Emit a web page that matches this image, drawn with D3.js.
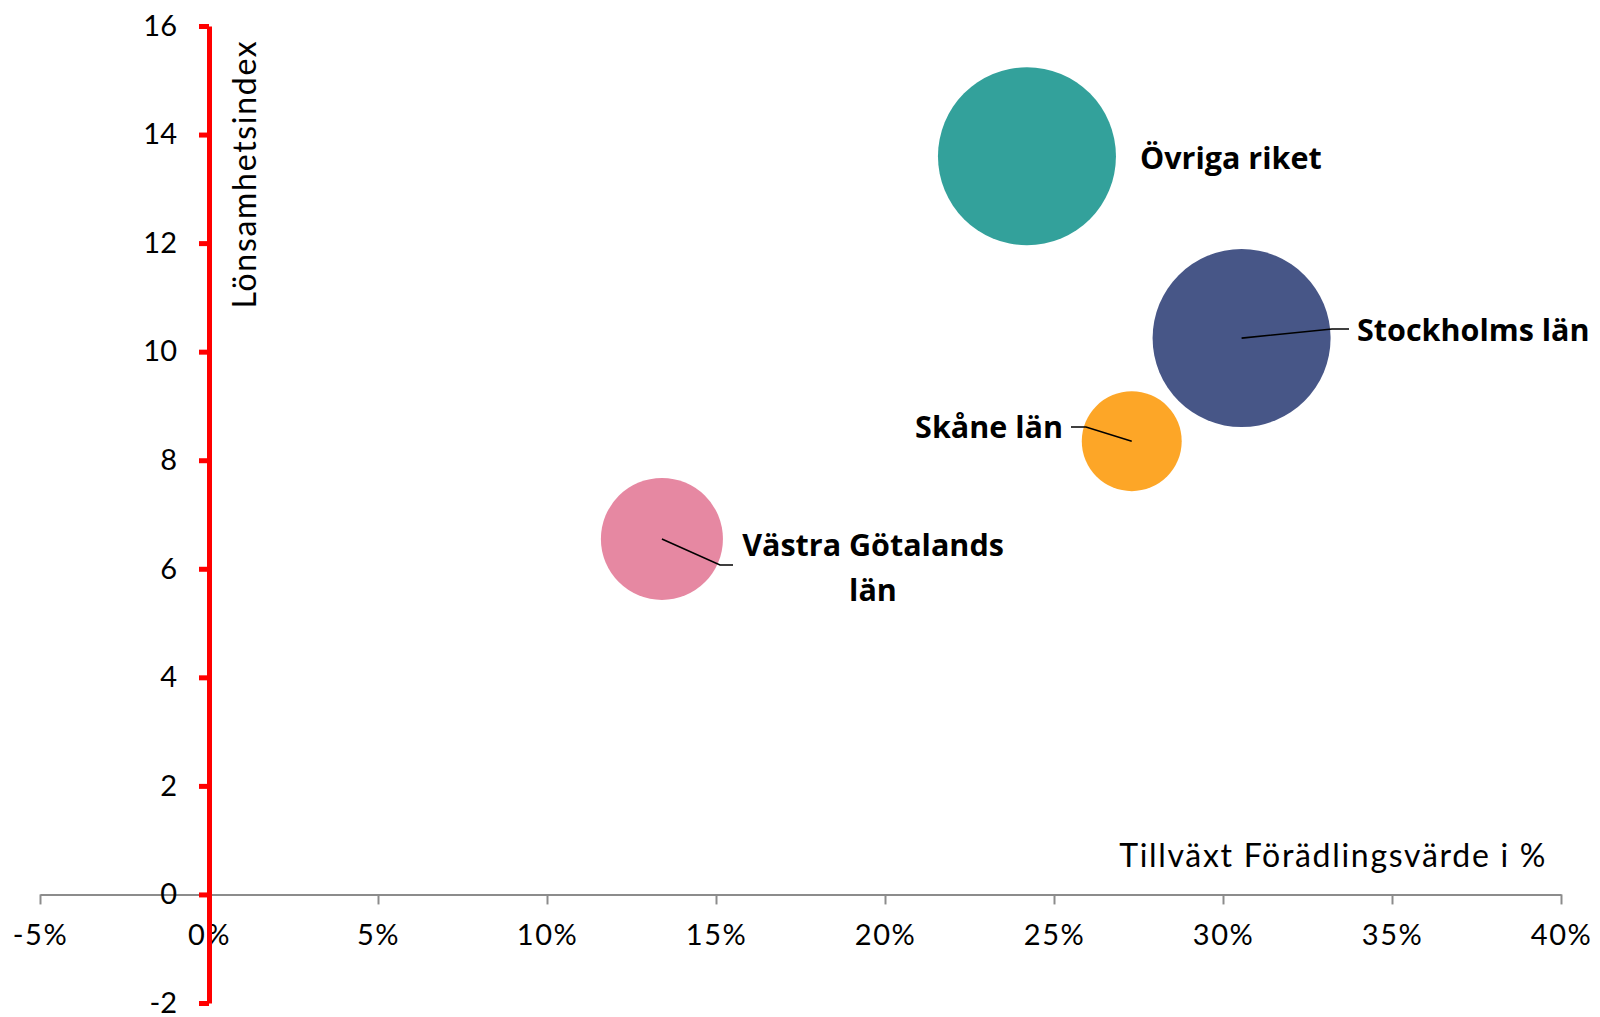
<!DOCTYPE html>
<html>
<head>
<meta charset="utf-8">
<script src="https://cdn.jsdelivr.net/npm/d3@7"></script>
<style>
  body { margin: 0; background: #fff; }
  svg { display: block; }
</style>
</head>
<body>
<script>
// data
var regions = ["Övriga riket", "Stockholms län", "Skåne län", "Västra Götalands län"];
var growth  = [24.2, 30.55, 27.3, 13.4];    // Tillväxt förädlingsvärde, %
var profit  = [13.6, 10.25, 8.35, 6.55];    // Lönsamhetsindex
var bsize   = [100, 100, 31.5, 47];         // bubble size
var colors  = ["#33a19b", "#475687", "#fda627", "#e688a2"];
var xTicks = [-5, 0, 5, 10, 15, 20, 25, 30, 35, 40];
var yTicks = [-2, 0, 2, 4, 6, 8, 10, 12, 14, 16];

var W = 1600, H = 1017;
var svg = d3.select("body").append("svg").attr("width", W).attr("height", H);

var x = d3.scaleLinear().domain([-5, 40]).range([40, 1561]);
var y = d3.scaleLinear().domain([-2, 16]).range([1003, 26]);
var r = d3.scaleSqrt().domain([0, 100]).range([0, 89]);

var tickFont = "Lato, 'Open Sans', sans-serif";
var labFont = "'Open Sans', Lato, sans-serif";

// x axis (grey), at y = 0
var gx = svg.append("g").attr("transform", "translate(0," + y(0) + ")")
  .call(d3.axisBottom(x).tickValues(xTicks).tickSize(10).tickSizeOuter(0).tickPadding(20)
    .tickFormat(function(d){ return String(d) + "%"; }));
gx.select(".domain").attr("stroke", "#8c8c8c").attr("stroke-width", 2);
gx.selectAll(".tick line").attr("stroke", "#8c8c8c").attr("stroke-width", 2);
gx.selectAll(".tick text").attr("fill", "#000").style("font-family", tickFont).style("font-size", "29px")
  .style("letter-spacing", "1.5px");

// bubbles
var pts = regions.map(function(n, i){ return {name: n, gx: growth[i], py: profit[i], s: bsize[i], c: colors[i]}; });
svg.append("g").selectAll("circle").data(pts).enter().append("circle")
  .attr("cx", function(d){ return x(d.gx); })
  .attr("cy", function(d){ return y(d.py); })
  .attr("r", function(d){ return r(d.s); })
  .attr("fill", function(d){ return d.c; });

// y axis (red), at x = 0
var gy = svg.append("g").attr("transform", "translate(" + x(0) + ",0)")
  .call(d3.axisLeft(y).tickValues(yTicks).tickSize(10).tickSizeOuter(0).tickPadding(22)
    .tickFormat(function(d){ return String(d); }));
gy.select(".domain").attr("stroke", "#ff0000").attr("stroke-width", 5);
gy.selectAll(".tick line").attr("stroke", "#ff0000").attr("stroke-width", 5);
gy.selectAll(".tick text").attr("fill", "#000").style("font-family", tickFont).style("font-size", "29px");

// axis titles
svg.append("text").attr("transform", "translate(" + (x(0) + 50) + "," + 174 + ") rotate(-90)")
  .attr("text-anchor", "middle").attr("dy", "-0.1em")
  .style("font-family", tickFont).style("font-size", "32px").style("letter-spacing", "1.7px")
  .text("Lönsamhetsindex");
svg.append("text").attr("x", 1547).attr("y", 867).attr("text-anchor", "end")
  .style("font-family", tickFont).style("font-size", "32px").style("letter-spacing", "1.7px")
  .text("Tillväxt Förädlingsvärde i %");

// labels + leader lines
function P(i){ return [x(growth[i]), y(profit[i])]; }
var lab = svg.append("g").style("font-family", labFont).style("font-weight", 700).style("font-size", "30.5px").attr("fill", "#000");
var lines = svg.append("g").attr("fill", "none").attr("stroke", "#000").attr("stroke-width", 1.6);

lab.append("text").attr("x", 1140).attr("y", 169).text(regions[0]);

var p1 = P(1);
lines.append("path").attr("d", d3.line()([p1, [1332, 329], [1349, 329]]));
lab.append("text").attr("x", 1357).attr("y", 341).text(regions[1]);

var p2 = P(2);
lines.append("path").attr("d", d3.line()([p2, [1086, 427], [1071, 427]]));
lab.append("text").attr("x", 1063).attr("y", 438).attr("text-anchor", "end").text(regions[2]);

var p3 = P(3);
lines.append("path").attr("d", d3.line()([p3, [720, 565], [733, 565]]));
var t3 = lab.append("text").attr("text-anchor", "middle");
t3.append("tspan").attr("x", 873).attr("y", 556).text("Västra Götalands");
t3.append("tspan").attr("x", 873).attr("y", 601).text("län");
</script>
</body>
</html>
